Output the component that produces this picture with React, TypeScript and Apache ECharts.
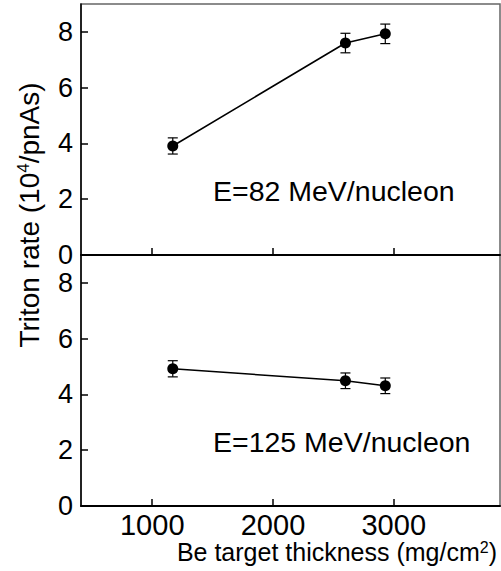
import React, { useEffect, useRef } from "react";
import * as echarts from "echarts";

const thickness = [1170, 2600, 2930];
const rate82 = [3.91, 7.6, 7.93];
const err82 = [0.29, 0.35, 0.35];
const rate125 = [4.92, 4.49, 4.31];
const err125 = [0.29, 0.28, 0.28];
const xTicks = [1000, 2000, 3000];
const yTicks = [0, 2, 4, 6, 8];
const label82 = "E=82 MeV/nucleon";
const label125 = "E=125 MeV/nucleon";

const FONT = "'Liberation Sans', Arial, Helvetica, sans-serif";

export default function App() {
  const ref = useRef<HTMLDivElement>(null);
  useEffect(() => {
    if (!ref.current) return;
    const chart = echarts.init(ref.current, null, { renderer: "svg" });

    const xAxis = (gi: number, showLabel: boolean) => ({
      type: "value",
      gridIndex: gi,
      min: 410,
      max: 3880,
      z: 5,
      splitLine: { show: false },
      axisLine: { show: true, onZero: false, lineStyle: { color: "#000", width: 2 } },
      axisTick: {
        show: true,
        inside: true,
        length: 7,
        customValues: xTicks,
        lineStyle: { color: "#000", width: 1.5 },
      },
      axisLabel: {
        show: showLabel,
        customValues: xTicks,
        formatter: (v: number) => String(v),
        fontSize: 29,
        color: "#000",
        fontFamily: FONT,
        margin: 4,
      },
    });
    const yAxis = (gi: number) => ({
      type: "value",
      gridIndex: gi,
      min: 0,
      max: 9,
      z: 5,
      splitLine: { show: false },
      axisLine: { show: true, onZero: false, lineStyle: { color: "#000", width: 1.5 } },
      axisTick: {
        show: true,
        inside: true,
        length: 7,
        customValues: yTicks,
        lineStyle: { color: "#000", width: 1.5 },
      },
      axisLabel: {
        show: true,
        customValues: yTicks,
        formatter: (v: number) => String(v),
        fontSize: 27,
        lineHeight: 22,
        color: "#000",
        fontFamily: FONT,
        margin: 8,
      },
    });

    const errData = (ys: number[], es: number[]) =>
      thickness.map((x, i) => [x, ys[i], es[i]]);

    const renderErr = (params: any, api: any) => {
      const x = api.value(0);
      const y = api.value(1);
      const e = api.value(2);
      const top = api.coord([x, y + e]);
      const bot = api.coord([x, y - e]);
      const hw = 5;
      const style = { stroke: "#000", lineWidth: 1.2 };
      return {
        type: "group",
        children: [
          { type: "line", shape: { x1: top[0], y1: top[1], x2: bot[0], y2: bot[1] }, style },
          { type: "line", shape: { x1: top[0] - hw, y1: top[1], x2: top[0] + hw, y2: top[1] }, style },
          { type: "line", shape: { x1: bot[0] - hw, y1: bot[1], x2: bot[0] + hw, y2: bot[1] }, style },
        ],
      };
    };

    const lineSeries = (gi: number, ys: number[]) => ({
      type: "line",
      xAxisIndex: gi,
      yAxisIndex: gi,
      data: thickness.map((x, i) => [x, ys[i]]),
      symbol: "circle",
      symbolSize: 11,
      itemStyle: { color: "#000" },
      lineStyle: { color: "#000", width: 1.6 },
      z: 3,
    });

    const errSeries = (gi: number, ys: number[], es: number[]) => ({
      type: "custom",
      xAxisIndex: gi,
      yAxisIndex: gi,
      data: errData(ys, es),
      encode: { x: 0, y: 1 },
      renderItem: renderErr,
      z: 2,
    });

    chart.setOption({
      animation: false,
      backgroundColor: "#fff",
      grid: [
        { left: 81, top: 4, width: 419, height: 251, show: true, borderColor: "#666", borderWidth: 1.5, z: 0 },
        { left: 81, top: 255, width: 419, height: 251, show: true, borderColor: "#666", borderWidth: 1.5, z: 0 },
      ],
      xAxis: [xAxis(0, false), xAxis(1, true)],
      yAxis: [yAxis(0), yAxis(1)],
      series: [
        errSeries(0, rate82, err82),
        lineSeries(0, rate82),
        errSeries(1, rate125, err125),
        lineSeries(1, rate125),
      ],
      graphic: [
        {
          type: "text",
          left: 213,
          top: 176,
          style: { text: label82, font: `28.5px ${FONT}`, fill: "#000" },
        },
        {
          type: "text",
          left: 213,
          top: 427,
          style: { text: label125, font: `28.5px ${FONT}`, fill: "#000" },
        },
        {
          type: "text",
          x: 497,
          y: 552,
          style: {
            text: "Be target thickness (mg/cm{sup|2})",
            font: `25px ${FONT}`,
            fill: "#000",
            align: "right",
            verticalAlign: "middle",
            rich: {
              sup: { fontSize: 16, fontFamily: FONT, verticalAlign: "top", fill: "#000" },
            },
          },
        },
        {
          type: "text",
          x: 29,
          y: 215,
          rotation: Math.PI / 2,
          style: {
            text: "Triton rate (10{sup|4}/pnAs)",
            font: `28px ${FONT}`,
            fill: "#000",
            align: "center",
            verticalAlign: "middle",
            rich: {
              sup: { fontSize: 17, fontFamily: FONT, verticalAlign: "top", fill: "#000" },
            },
          },
        },
      ],
    });
    return () => chart.dispose();
  }, []);
  return (
    <div
      ref={ref}
      style={{ position: "absolute", left: 0, top: 0, width: 501, height: 571 }}
    />
  );
}
